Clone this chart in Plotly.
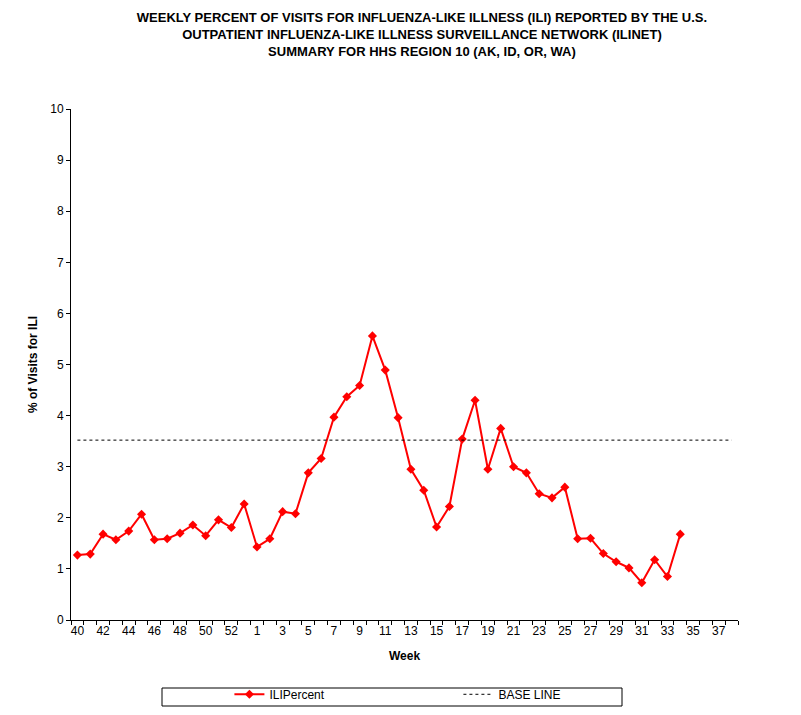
import plotly.graph_objects as go

weeks = [str(w) for w in list(range(40, 54)) + list(range(1, 39))]
ili_weeks = [str(w) for w in list(range(40, 54)) + list(range(1, 35))]
ili_percent = [1.27, 1.29, 1.68, 1.57, 1.74, 2.07, 1.57, 1.59, 1.70, 1.86,
               1.65, 1.96, 1.81, 2.27, 1.43, 1.59, 2.12, 2.08, 2.88, 3.16,
               3.97, 4.37, 4.59, 5.56, 4.89, 3.96, 2.95, 2.54, 1.82, 2.22,
               3.54, 4.30, 2.95, 3.75, 3.00, 2.88, 2.47, 2.39, 2.60, 1.59,
               1.60, 1.30, 1.14, 1.02, 0.73, 1.18, 0.85, 1.68]
baseline_value = 3.52
baseline = [baseline_value] * len(weeks)

idx = {w: i for i, w in enumerate(weeks)}
x_all = list(range(len(weeks)))
x_ili = [idx[w] for w in ili_weeks]
tick_idx = x_all[::2]
tick_text = [weeks[i] for i in tick_idx]

FONT = "Liberation Sans, Arial, sans-serif"

fig = go.Figure()
fig.add_trace(go.Scatter(
    x=x_ili, y=ili_percent, name="ILIPercent", mode="lines+markers",
    line=dict(color="#FF0000", width=2),
    marker=dict(symbol="diamond", size=7, color="#FF0000"),
))
fig.add_trace(go.Scatter(
    x=x_all, y=baseline, name="BASE LINE", mode="lines",
    line=dict(color="black", width=1, dash="dot"),
))

fig.update_layout(
    width=793, height=707,
    margin=dict(l=63, r=63, t=101, b=95, autoexpand=False),
    paper_bgcolor="white", plot_bgcolor="white",
    font=dict(family=FONT, size=12, color="black"),
    title=dict(
        text="WEEKLY PERCENT OF VISITS FOR INFLUENZA-LIKE ILLNESS (ILI) REPORTED BY THE U.S.<br>"
             "OUTPATIENT INFLUENZA-LIKE ILLNESS SURVEILLANCE NETWORK (ILINET)<br>"
             "SUMMARY FOR HHS REGION 10 (AK, ID, OR, WA)",
        x=0.522, xanchor="center", yref="container", y=0.9805, yanchor="top",
        font=dict(family=FONT, size=13, color="black", weight="bold"),
    ),
    showlegend=True,
    legend=dict(
        orientation="h", x=0.2375, xanchor="left", y=-0.117, yanchor="top",
        bgcolor="rgba(0,0,0,0)", borderwidth=0,
        font=dict(family=FONT, size=12), entrywidth=184,
    ),
    shapes=[dict(type="rect", xref="paper", yref="paper",
                 x0=(162 - 71) / 667, x1=(622 - 71) / 667,
                 y0=-(706 - 620) / 511, y1=-(688 - 620) / 511,
                 line=dict(color="black", width=1))],
)
fig.update_xaxes(
    range=[-0.5, len(weeks) - 0.5], automargin=False,
    tickmode="array", tickvals=tick_idx, ticktext=tick_text,
    ticks="", showgrid=False, zeroline=False,
    showline=True, linecolor="black", linewidth=1,
    minor=dict(ticks="outside", tick0=-0.5, dtick=1, ticklen=4,
               tickcolor="black", showgrid=False),
    title=dict(text="<b>Week</b>", font=dict(family=FONT, size=12), standoff=14),
    tickfont=dict(family=FONT, size=12),
)
fig.update_yaxes(
    range=[0, 10], dtick=1, ticks="outside", ticklen=4, tickcolor="black",
    showgrid=False, zeroline=False, automargin=False,
    showline=True, linecolor="black", linewidth=1,
    title=dict(text="<b>% of Visits for ILI</b>", font=dict(family=FONT, size=12), standoff=10),
    tickfont=dict(family=FONT, size=12),
)

fig.write_html("out.html")
